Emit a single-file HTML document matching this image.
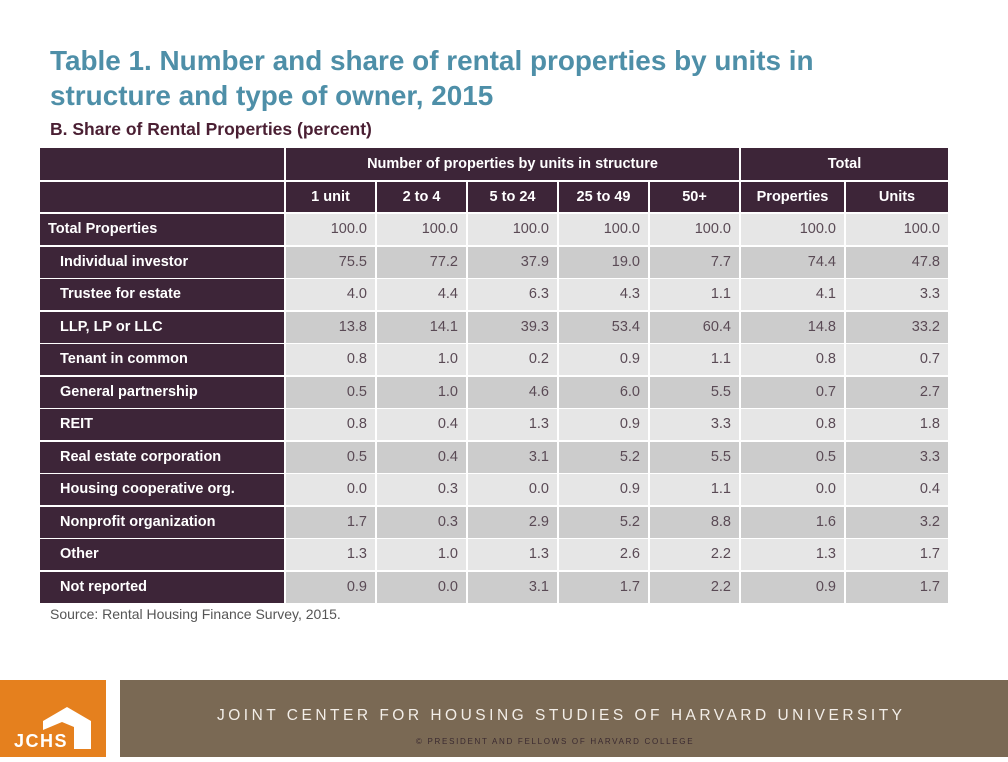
<!DOCTYPE html>
<html><head><meta charset="utf-8"><style>
*{margin:0;padding:0;box-sizing:border-box}
body{width:1008px;height:757px;background:#fff;position:relative;overflow:hidden;font-family:"Liberation Sans",Arial,sans-serif}
.t{position:absolute;left:50px;top:43px;color:#4e8fa8;font-weight:bold;font-size:27.9px;line-height:35px}
.s{position:absolute;left:50px;top:119px;color:#4a1f33;font-weight:bold;font-size:17.5px}
.c{position:absolute;display:flex;align-items:center;font-size:14.5px}
.h{background:#3d2538;color:#fff;font-weight:bold;justify-content:center}
.l{background:#3d2538;color:#fff;font-weight:bold}
.n{color:#5a4a55;justify-content:flex-end;padding-right:8px}
.src{position:absolute;left:50px;top:606px;font-size:14px;color:#555}
.og{position:absolute;left:0;top:680px;width:106px;height:77px;background:#e5801e}
.br{position:absolute;left:120px;top:680px;width:888px;height:77px;background:#7a6954}
.f1{position:absolute;left:217px;top:707px;color:#f3eee8;font-size:15.5px;letter-spacing:3.5px;white-space:nowrap}
.f2{position:absolute;left:416px;top:737px;color:#3a2a30;font-size:8px;letter-spacing:1.7px;white-space:nowrap}
</style></head><body>
<div class="t">Table 1. Number and share of rental properties by units in<br>structure and type of owner, 2015</div>
<div class="s">B. Share of Rental Properties (percent)</div>
<div id="tb"></div>
<div class="src">Source: Rental Housing Finance Survey, 2015.</div>
<div class="og"><svg width="106" height="77" viewBox="0 0 106 77">
<polygon points="43,41 67,27 91,41 91,69 74,69 74,47 62,42 43,50" fill="#fff"/>
<text x="14" y="67" fill="#fff" font-family="Liberation Sans" font-weight="bold" font-size="18" letter-spacing="1.5">JCHS</text></svg></div>
<div class="br"></div>
<div class="f1">JOINT CENTER FOR HOUSING STUDIES OF HARVARD UNIVERSITY</div>
<div class="f2">© PRESIDENT AND FELLOWS OF HARVARD COLLEGE</div>
<script>
var cols=[[40,284],[286,375],[377,466],[468,557],[559,648],[650,739],[741,844],[846,948]];
var rows=[["Total Properties",100.0,100.0,100.0,100.0,100.0,100.0,100.0],
["Individual investor",75.5,77.2,37.9,19.0,7.7,74.4,47.8],
["Trustee for estate",4.0,4.4,6.3,4.3,1.1,4.1,3.3],
["LLP, LP or LLC",13.8,14.1,39.3,53.4,60.4,14.8,33.2],
["Tenant in common",0.8,1.0,0.2,0.9,1.1,0.8,0.7],
["General partnership",0.5,1.0,4.6,6.0,5.5,0.7,2.7],
["REIT",0.8,0.4,1.3,0.9,3.3,0.8,1.8],
["Real estate corporation",0.5,0.4,3.1,5.2,5.5,0.5,3.3],
["Housing cooperative org.",0.0,0.3,0.0,0.9,1.1,0.0,0.4],
["Nonprofit organization",1.7,0.3,2.9,5.2,8.8,1.6,3.2],
["Other",1.3,1.0,1.3,2.6,2.2,1.3,1.7],
["Not reported",0.9,0.0,3.1,1.7,2.2,0.9,1.7]];
var h="";
function cell(cls,x1,x2,y,hh,txt,st){h+='<div class="c '+cls+'" style="left:'+x1+'px;top:'+y+'px;width:'+(x2-x1)+'px;height:'+hh+'px;'+(st||'')+'">'+txt+'</div>';}
cell("h",40,284,148,32,"");cell("h",286,739,148,32,"Number of properties by units in structure");cell("h",741,948,148,32,"Total");
var hd=["","1 unit","2 to 4","5 to 24","25 to 49","50+","Properties","Units"];
for(var i=0;i<8;i++)cell("h",cols[i][0],cols[i][1],182,30,hd[i]);
for(var r=0;r<rows.length;r++){var y=214+r*32.5,hh=30.5;
 cell("l",40,284,Math.round(y),hh,rows[r][0],"padding-left:"+(r==0?8:20)+"px");
 var bg=(r%2==0)?"#e6e6e6":"#cccccc";
 for(var i=1;i<8;i++)cell("n",cols[i][0],cols[i][1],Math.round(y),hh,rows[r][i].toFixed(1),"background:"+bg);}
document.getElementById("tb").innerHTML=h;
</script>
</body></html>
